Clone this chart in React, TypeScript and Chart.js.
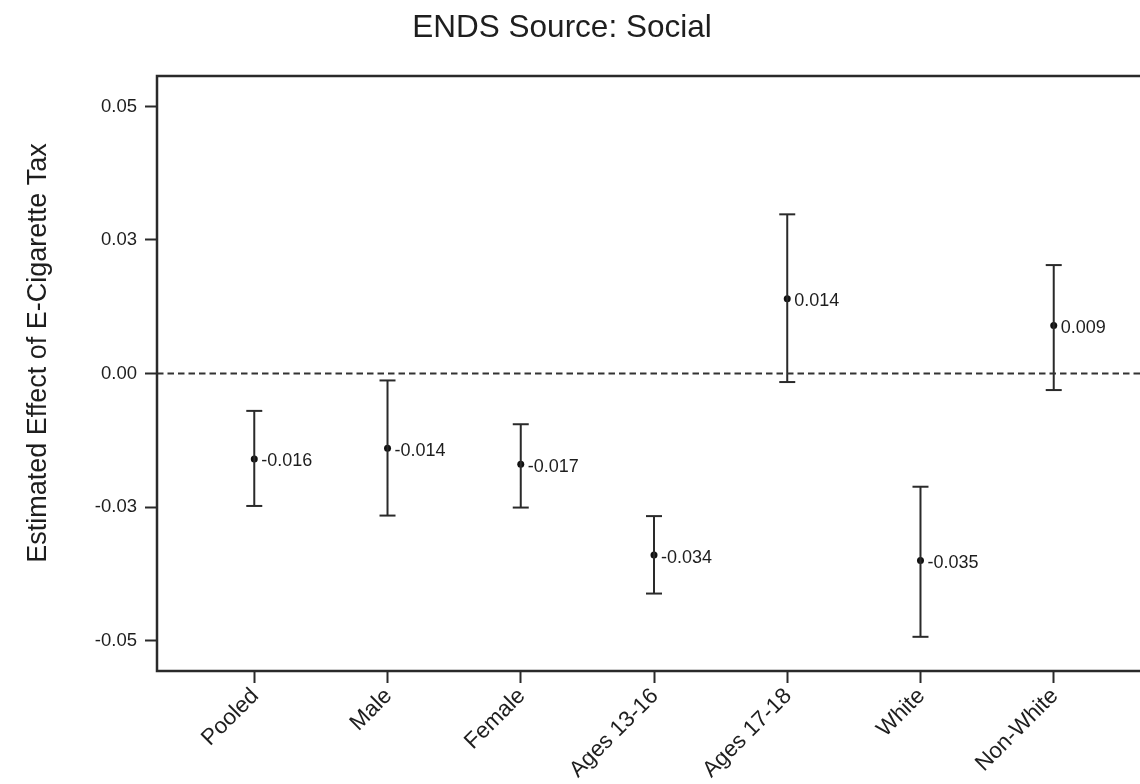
import React, { useEffect, useRef } from "react";
import { Chart, registerables } from "chart.js";

Chart.register(...registerables);

// ---- data ----
const categories = ["Pooled", "Male", "Female", "Ages 13-16", "Ages 17-18", "White", "Non-White"];
const xPositions = [1, 2, 3, 4, 5, 6, 7];
const estimates = [-0.016, -0.014, -0.017, -0.034, 0.014, -0.035, 0.009];
const lowerCI = [-0.0248, -0.0266, -0.0251, -0.0412, -0.0016, -0.0493, -0.0031];
const upperCI = [-0.007, -0.0013, -0.0095, -0.0267, 0.0298, -0.0212, 0.0203];
const valueLabels = ["-0.016", "-0.014", "-0.017", "-0.034", "0.014", "-0.035", "0.009"];
const yTickValues = [-0.05, -0.025, 0, 0.025, 0.05];
const yTickLabels = ["-0.05", "-0.03", "0.00", "0.03", "0.05"];
const chartTitle = "ENDS Source: Social";
const yAxisTitle = "Estimated Effect of E-Cigarette Tax";
const xMin = 0.27;
const xMax = 7.73;
const yMin = -0.0557;
const yMax = 0.0557;

const FONT = "'Liberation Sans', Arial, Helvetica, sans-serif";
const INK = "#1e1e1e";
const LINE = "#2a2a2a";
const CANVAS_W = 1151;
const CANVAS_H = 784;

const decorPlugin = {
  id: "decor",
  afterDatasetsDraw(chart: any) {
    const { ctx, scales } = chart;
    const xs = scales.x;
    const ys = scales.y;
    ctx.save();
    ctx.fillStyle = INK;
    ctx.font = `18px ${FONT}`;
    ctx.textAlign = "left";
    ctx.textBaseline = "middle";
    estimates.forEach((v, i) => {
      const px = xs.getPixelForValue(xPositions[i]);
      const py = ys.getPixelForValue(v);
      ctx.fillText(valueLabels[i], px + 7, py + 2.5);
    });
    ctx.restore();
  },
  afterDraw(chart: any) {
    const { ctx, chartArea } = chart;
    ctx.save();
    // frame
    ctx.strokeStyle = LINE;
    ctx.lineWidth = 2.5;
    ctx.strokeRect(chartArea.left, chartArea.top, chartArea.right - chartArea.left, chartArea.bottom - chartArea.top);
    // title
    ctx.fillStyle = INK;
    ctx.font = `31.5px ${FONT}`;
    ctx.textAlign = "center";
    ctx.textBaseline = "alphabetic";
    ctx.fillText(chartTitle, 562, 37);
    // y axis title
    ctx.translate(46, 353);
    ctx.rotate(-Math.PI / 2);
    ctx.font = `27px ${FONT}`;
    ctx.fillText(yAxisTitle, 0, 0);
    ctx.restore();
  },
};

export default function App() {
  const ref = useRef<HTMLCanvasElement | null>(null);

  useEffect(() => {
    if (!ref.current) return;
    const stems: any[] = [];
    const caps: any[] = [];
    xPositions.forEach((x, i) => {
      stems.push({ x, y: lowerCI[i] }, { x, y: upperCI[i] }, { x: x + 0.5, y: null });
      caps.push({ x, y: lowerCI[i] }, { x, y: upperCI[i] });
    });
    const points = xPositions.map((x, i) => ({ x, y: estimates[i] }));

    const chart = new Chart(ref.current, {
      type: "scatter",
      data: {
        datasets: [
          {
            type: "line",
            data: [
              { x: xMin, y: 0 },
              { x: xMax, y: 0 },
            ],
            borderColor: "#333",
            borderWidth: 2,
            borderDash: [6.5, 4],
            pointRadius: 0,
            fill: false,
          } as any,
          {
            type: "line",
            data: stems,
            borderColor: LINE,
            borderWidth: 2,
            pointRadius: 0,
            spanGaps: false,
            fill: false,
          } as any,
          {
            type: "scatter",
            data: caps,
            pointStyle: "line",
            pointRadius: 8,
            pointBorderWidth: 2,
            pointBorderColor: LINE,
            showLine: false,
          } as any,
          {
            type: "scatter",
            data: points,
            pointStyle: "circle",
            pointRadius: 3.5,
            pointBackgroundColor: "#111",
            pointBorderWidth: 0,
            showLine: false,
          } as any,
        ],
      },
      options: {
        responsive: false,
        maintainAspectRatio: false,
        animation: false,
        layout: { autoPadding: false, padding: { top: 76, left: 0, right: 0, bottom: 0 } },
        plugins: {
          legend: { display: false },
          tooltip: { enabled: false },
          title: { display: false },
        },
        scales: {
          x: {
            type: "linear",
            min: xMin,
            max: xMax,
            afterBuildTicks: (s: any) => {
              s.ticks = xPositions.map((v) => ({ value: v }));
            },
            afterFit: (s: any) => {
              s.height = 113;
            },
            grid: {
              drawOnChartArea: false,
              drawTicks: true,
              tickLength: 12,
              tickWidth: 2,
              tickColor: LINE,
            },
            border: { display: false },
            ticks: {
              autoSkip: false,
              minRotation: 45,
              maxRotation: 45,
              padding: 0,
              labelOffset: 1,
              color: INK,
              font: { family: FONT, size: 22.5 },
              callback: (v: any) => {
                const idx = xPositions.indexOf(Number(v));
                return idx >= 0 ? categories[idx] : "";
              },
            },
          },
          y: {
            type: "linear",
            min: yMin,
            max: yMax,
            afterBuildTicks: (s: any) => {
              s.ticks = yTickValues.map((v) => ({ value: v }));
            },
            afterFit: (s: any) => {
              s.width = 157;
            },
            grid: {
              drawOnChartArea: false,
              drawTicks: true,
              tickLength: 12,
              tickWidth: 2,
              tickColor: LINE,
            },
            border: { display: false },
            ticks: {
              autoSkip: false,
              padding: 8,
              color: INK,
              font: { family: FONT, size: 18.5 },
              callback: (v: any) => {
                const idx = yTickValues.indexOf(Number(v));
                return idx >= 0 ? yTickLabels[idx] : "";
              },
            },
          },
        },
      },
      plugins: [decorPlugin],
    });
    return () => chart.destroy();
  }, []);

  return (
    <div
      style={{
        position: "absolute",
        left: 0,
        top: 0,
        width: 1140,
        height: 784,
        overflow: "hidden",
        background: "#fff",
      }}
    >
      <div style={{ width: CANVAS_W, height: CANVAS_H }}>
        <canvas ref={ref} width={CANVAS_W} height={CANVAS_H} style={{ display: "block" }} />
      </div>
    </div>
  );
}
